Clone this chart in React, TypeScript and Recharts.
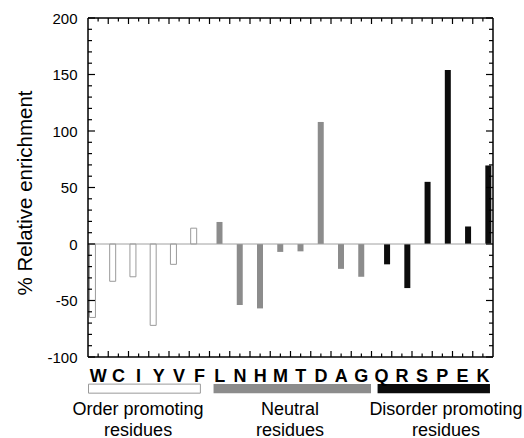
import React from 'react'
import { BarChart, Bar, Cell, XAxis, YAxis, ReferenceLine, ReferenceArea, Label } from 'recharts'

const residues = ['W', 'C', 'I', 'Y', 'V', 'F', 'L', 'N', 'H', 'M', 'T', 'D', 'A', 'G', 'Q', 'R', 'S', 'P', 'E', 'K']
const enrichment = [-65, -33, -29, -72, -18, 14, 19.5, -54, -57, -7, -6.5, 108, -22, -29, -18, -39, 55, 154, 15.5, 69.5]
const residueGroup = [0, 0, 0, 0, 0, 0, 1, 1, 1, 1, 1, 1, 1, 1, 2, 2, 2, 2, 2, 2]
const groupNames = ['Order promoting', 'Neutral', 'Disorder promoting']
const groupSubtitle = 'residues'
const yTickLabels = [-100, -50, 0, 50, 100, 150, 200]

// layout (axis units): x axis runs 0..40, two units per residue, small gap between groups
const groupFill = ['#ffffff', '#8c8c8c', '#0c0c0c']
const groupStroke = ['#9a9a9a', 'none', 'none']
const groupSpan = [[0.05, 11.1], [12.4, 27.95], [28.6, 39.7]]
const groupLabelX = [4.95, 19.95, 35.35]

const FONT = "'Liberation Sans', Arial, sans-serif"

const data = residues.map((r, i) => ({
  name: r,
  value: enrichment[i],
  group: residueGroup[i],
  x: 0.45 + 2 * i + 0.55 * residueGroup[i],
}))

const xTicks = Array.from({ length: 39 }, (_, k) => k + 1)
const yTicks = Array.from({ length: 31 }, (_, k) => -100 + k * 10)

const BottomTick = (props: any) => {
  const { x, y, payload } = props
  const v = payload.value as number
  const len = v % 2 === 0 ? 6 : 3.5
  return (
    <g>
      <line x1={x} x2={x} y1={y} y2={y - len} stroke="#000" strokeWidth={1.2} />
      {v % 2 === 1 && (
        <text x={x} y={y + 25} textAnchor="middle" fontFamily={FONT} fontWeight="bold" fontSize={18} fill="#000">
          {residues[(v - 1) / 2]}
        </text>
      )}
    </g>
  )
}

const TopTick = (props: any) => {
  const { x, y, payload } = props
  const len = payload.value % 2 === 0 ? 6 : 3.5
  return <line x1={x} x2={x} y1={y} y2={y + len} stroke="#000" strokeWidth={1.2} />
}

const LeftTick = (props: any) => {
  const { x, y, payload } = props
  const v = payload.value as number
  const major = yTickLabels.includes(v)
  return (
    <g>
      <line x1={x} x2={x + (major ? 7 : 4)} y1={y} y2={y} stroke="#000" strokeWidth={1.2} />
      {major && (
        <text x={x - 10.5} y={y + 5.5} textAnchor="end" fontFamily={FONT} fontSize={15} fill="#000">
          {v}
        </text>
      )}
    </g>
  )
}

const RightTick = (props: any) => {
  const { x, y, payload } = props
  const major = yTickLabels.includes(payload.value)
  return <line x1={x} x2={x - (major ? 7 : 4)} y1={y} y2={y} stroke="#000" strokeWidth={1.2} />
}

const GroupTick = (props: any) => {
  const { x, y, index } = props
  return (
    <g fontFamily={FONT} fontSize={18} fill="#000">
      <text x={x} y={y + 28} textAnchor="middle">{groupNames[index]}</text>
      <text x={x} y={y + 48.5} textAnchor="middle">{groupSubtitle}</text>
    </g>
  )
}

const renderTitle = (props: any) => {
  const vb = props.viewBox || { x: 0, y: 0, width: 88, height: 339 }
  const cx = vb.x + 32
  const cy = vb.y + vb.height / 2 + 5.5
  return (
    <text
      x={cx}
      y={cy}
      transform={`rotate(-90, ${cx}, ${cy})`}
      textAnchor="middle"
      fontFamily={FONT}
      fontSize={20.5}
      fill="#000"
    >
      % Relative enrichment
    </text>
  )
}

export default function App() {
  return (
    <div style={{ position: 'absolute', left: 0, top: 0, width: 524, height: 438, background: '#fff' }}>
      <BarChart width={524} height={438} data={data} margin={{ top: 17, right: 30, left: 0, bottom: 0 }}>
        <XAxis
          dataKey="x"
          type="number"
          domain={[0, 40]}
          ticks={xTicks}
          interval={0}
          tick={<BottomTick />}
          tickLine={false}
          tickSize={0}
          tickMargin={0}
          axisLine={{ stroke: '#000', strokeWidth: 1.5 }}
          height={30}
          allowDataOverflow
        />
        <XAxis
          xAxisId="groups"
          dataKey="x"
          type="number"
          domain={[0, 40]}
          ticks={groupLabelX}
          interval={0}
          tick={<GroupTick />}
          tickLine={false}
          tickSize={0}
          tickMargin={0}
          axisLine={false}
          height={51}
          allowDataOverflow
        />
        <XAxis
          xAxisId="top"
          orientation="top"
          dataKey="x"
          type="number"
          domain={[0, 40]}
          ticks={xTicks}
          interval={0}
          tick={<TopTick />}
          tickLine={false}
          tickSize={0}
          tickMargin={0}
          axisLine={{ stroke: '#000', strokeWidth: 1.5 }}
          height={1}
          allowDataOverflow
        />
        <YAxis
          type="number"
          domain={[-100, 200]}
          ticks={yTicks}
          interval={0}
          tick={<LeftTick />}
          tickLine={false}
          tickSize={0}
          tickMargin={0}
          axisLine={{ stroke: '#000', strokeWidth: 1.5 }}
          width={88}
          allowDataOverflow
        >
          <Label content={renderTitle} />
        </YAxis>
        <YAxis
          yAxisId="right"
          orientation="right"
          type="number"
          domain={[-100, 200]}
          ticks={yTicks}
          interval={0}
          tick={<RightTick />}
          tickLine={false}
          tickSize={0}
          tickMargin={0}
          axisLine={{ stroke: '#000', strokeWidth: 1.5 }}
          width={1}
          allowDataOverflow
        />
        <ReferenceLine y={0} stroke="#a0a0a0" strokeWidth={1} />
        {groupSpan.map(([x1, x2], g) => (
          <ReferenceArea
            key={g}
            x1={x1}
            x2={x2}
            y1={-124}
            y2={-132}
            ifOverflow="visible"
            fill={groupFill[g]}
            fillOpacity={1}
            stroke={groupStroke[g]}
            strokeWidth={1}
          />
        ))}
        <Bar dataKey="value" barSize={6} isAnimationActive={false}>
          {data.map((d, i) => (
            <Cell key={i} fill={groupFill[d.group]} stroke={groupStroke[d.group]} strokeWidth={1} />
          ))}
        </Bar>
      </BarChart>
    </div>
  )
}
